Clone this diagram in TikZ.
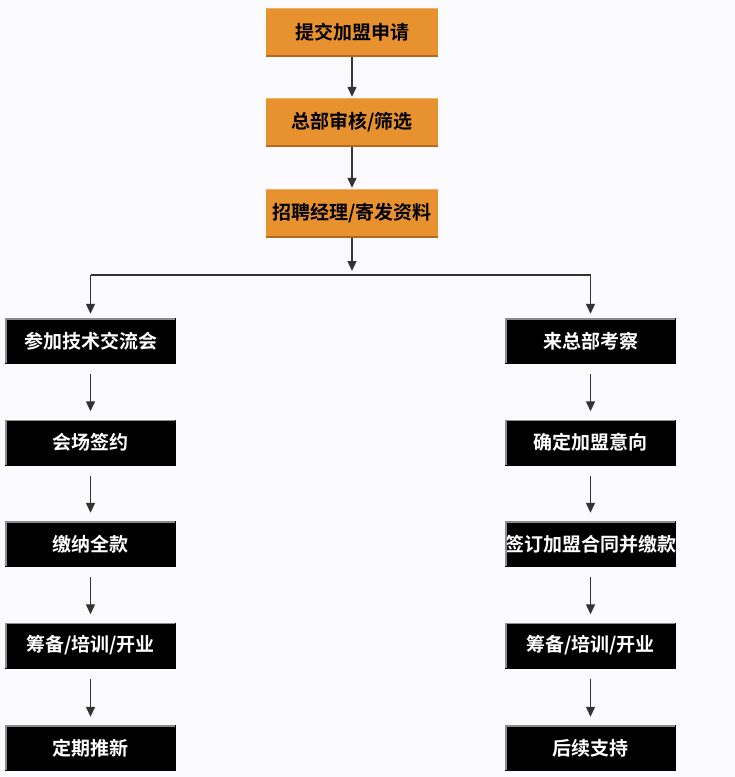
\documentclass[tikz,border=0pt]{standalone}
\usepackage{fontspec}
\setmainfont{Noto Sans CJK SC}[BoldFont={* Bold}]
\newfontfamily\cjkb{Noto Sans CJK SC Bold}
\usetikzlibrary{arrows.meta}
\definecolor{orng}{HTML}{E8912F}
\definecolor{orngd}{HTML}{B8671C}
\definecolor{bg}{HTML}{FBFBFD}
\tikzset{
  obox/.style={draw=none, fill=orng, minimum width=172pt, minimum height=49pt, inner sep=0pt,
    font=\cjkb\fontsize{19}{21}\selectfont, text=black},
  bbox/.style={draw=none, fill=black, minimum width=171pt, minimum height=46pt, inner sep=0pt,
    font=\cjkb\fontsize{19}{21}\selectfont, text=white},
  arr/.style={draw=black!80, line width=1.3pt, -{Triangle[length=10pt,width=9pt]}},
  ln/.style={draw=black!80, line width=1.3pt}
}
\begin{document}
\begin{tikzpicture}[x=1pt,y=-1pt]
\fill[bg] (0,0) rectangle (735,777);
\useasboundingbox (0,0) rectangle (735,777);
% orange boxes
\node[obox] (o1) at (352,32.5) {提交加盟申请};
\node[obox] (o2) at (352,122.5) {总部审核/筛选};
\node[obox] (o3) at (352,213.5) {招聘经理/寄发资料};
\foreach \n in {o1,o2,o3}{
  \draw[orngd, line width=2pt] ([yshift=1pt]\n.south west) -- ([yshift=1pt]\n.south east);
  \draw[orng!70!white, line width=1pt] ([yshift=-0.5pt]\n.north west) -- ([yshift=-0.5pt]\n.north east);
}
% left column
\node[bbox] (l1) at (90.5,341) {参加技术交流会};
\node[bbox] (l2) at (90.5,442.5) {会场签约};
\node[bbox] (l3) at (90.5,544) {缴纳全款};
\node[bbox] (l4) at (90.5,645.5) {筹备/培训/开业};
\node[bbox] (l5) at (90.5,748) {定期推新};
% right column
\node[bbox] (r1) at (590.5,341) {来总部考察};
\node[bbox] (r2) at (590.5,442.5) {确定加盟意向};
\node[bbox] (r3) at (590.5,544) {签订加盟合同并缴款};
\node[bbox] (r4) at (590.5,645.5) {筹备/培训/开业};
\node[bbox] (r5) at (590.5,748) {后续支持};
\foreach \n in {l1,l2,l3,l4,l5,r1,r2,r3,r4,r5}{
  \draw[black!45, line width=1.5pt] ([xshift=1pt,yshift=1pt]\n.south west) -- ([xshift=1pt,yshift=-1pt]\n.north west) -- ([xshift=-1pt,yshift=-1pt]\n.north east);
}
% arrows in the orange column
\draw[arr] (o1.south) -- ([yshift=1pt]o2.north);
\draw[arr] (o2.south) -- ([yshift=1pt]o3.north);
\coordinate (jn) at (352,271);
\coordinate (bl) at (90.5,275);
\coordinate (br) at (590.5,275);
\draw[arr] (o3.south) -- (jn);
\draw[ln] (bl) -- (br);
\draw[arr] (bl) -- ([yshift=4pt]l1.north);
\draw[arr] (br) -- ([yshift=4pt]r1.north);
% column arrows
\foreach \a/\b in {l1/l2,l2/l3,l3/l4,l4/l5,r1/r2,r2/r3,r3/r4,r4/r5}{
  \draw[arr] ([yshift=-10pt]\a.south) -- ([yshift=8pt]\b.north);
}
\end{tikzpicture}
\end{document}
